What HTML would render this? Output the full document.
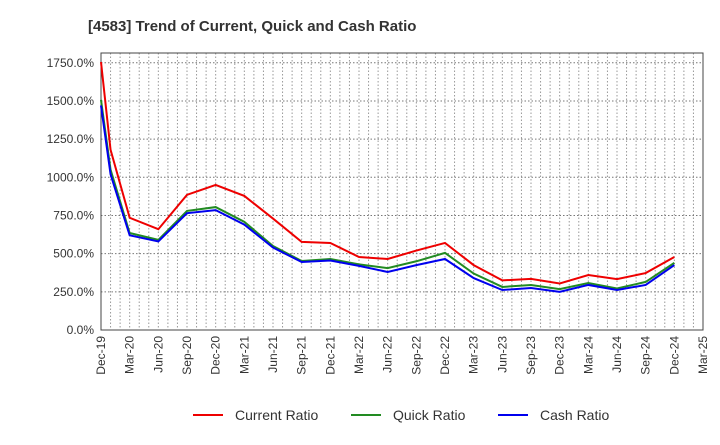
<!DOCTYPE html>
<html><head><meta charset="utf-8"><style>
body{margin:0;background:#fff;font-family:"Liberation Sans",sans-serif;}
svg text{font-family:"Liberation Sans",sans-serif;}
</style></head><body>
<svg width="720" height="440" xmlns="http://www.w3.org/2000/svg">
<rect width="720" height="440" fill="#fff"/>
<text x="88" y="31" font-size="15" font-weight="bold" fill="#333">[4583]  Trend of Current, Quick and Cash Ratio</text>
<g id="grid"></g>
<g id="axes"></g>
<g id="series"></g>
<g id="legend"></g>
</svg>
<script>
const xLabels=["Dec-19","Mar-20","Jun-20","Sep-20","Dec-20","Mar-21","Jun-21","Sep-21","Dec-21","Mar-22","Jun-22","Sep-22","Dec-22","Mar-23","Jun-23","Sep-23","Dec-23","Mar-24","Jun-24","Sep-24","Dec-24","Mar-25"];
const yTicks=[0,250,500,750,1000,1250,1500,1750];
const months=[0,1,3,6,9,12,15,18,21,24,27,30,33,36,39,42,45,48,51,54,57,60];
const currentRatio=[1755,1180,735,660,885,950,878,730,577,570,478,465,520,570,425,325,335,305,360,333,373,478];
const quickRatio=[1507,1050,635,590,780,805,708,550,452,465,430,405,450,505,370,282,295,268,308,272,315,440];
const cashRatio=[1470,1020,620,580,765,785,690,540,445,455,420,380,425,465,340,262,275,250,295,262,295,425];
const L=101,R=703,T=53,B=330,ymax=1814;
const NS="http://www.w3.org/2000/svg";
const xs=m=>L+(R-L)*m/63;
const ys=v=>B-(B-T)*v/ymax;
function mk(tag,attrs,parent){const e=document.createElementNS(NS,tag);for(const k in attrs)e.setAttribute(k,attrs[k]);parent.appendChild(e);return e;}
const grid=document.getElementById('grid'),axes=document.getElementById('axes'),series=document.getElementById('series'),legend=document.getElementById('legend');
for(let m=1;m<63;m++){const g=mk('line',{x1:xs(m),x2:xs(m),y1:T,y2:B,stroke:'#999','stroke-dasharray':'1.5,2','stroke-width':1},grid);

}
yTicks.forEach(v=>{if(v>0){const g=mk('line',{x1:L,x2:R,y1:ys(v),y2:ys(v),stroke:'#777','stroke-dasharray':'1.5,2','stroke-width':1},grid);

}
const t=mk('text',{x:L-7,y:ys(v)+4,'text-anchor':'end','font-size':12,fill:'#333'},axes);t.textContent=v.toFixed(1)+'%';

});
const box=mk('rect',{x:L,y:T,width:R-L,height:B-T,fill:'none',stroke:'#444','stroke-width':1},axes);


xLabels.forEach((s,i)=>{const x=xs(i*3);const t=mk('text',{transform:`translate(${x+4},${B+6}) rotate(-90)`,'text-anchor':'end','font-size':12,fill:'#333'},axes);t.textContent=s;

});
const defs=[[currentRatio,'#ee0000','current-ratio-line'],[quickRatio,'#228b22','quick-ratio-line'],[cashRatio,'#0000ee','cash-ratio-line']];
defs.forEach(([d,c,n])=>{const pts=d.map((v,i)=>xs(months[i])+','+ys(v)).join(' ');
const p=mk('polyline',{points:pts,fill:'none',stroke:c,'stroke-width':2},series);

});
const leg=[['Current Ratio','#ee0000',193],['Quick Ratio','#228b22',351],['Cash Ratio','#0000ee',498]];
leg.forEach(([s,c,x])=>{const l=mk('line',{x1:x,x2:x+30,y1:415,y2:415,stroke:c,'stroke-width':2},legend);


const t=mk('text',{x:x+42,y:420,'font-size':14,fill:'#333'},legend);t.textContent=s;

});
</script>
</body></html>
